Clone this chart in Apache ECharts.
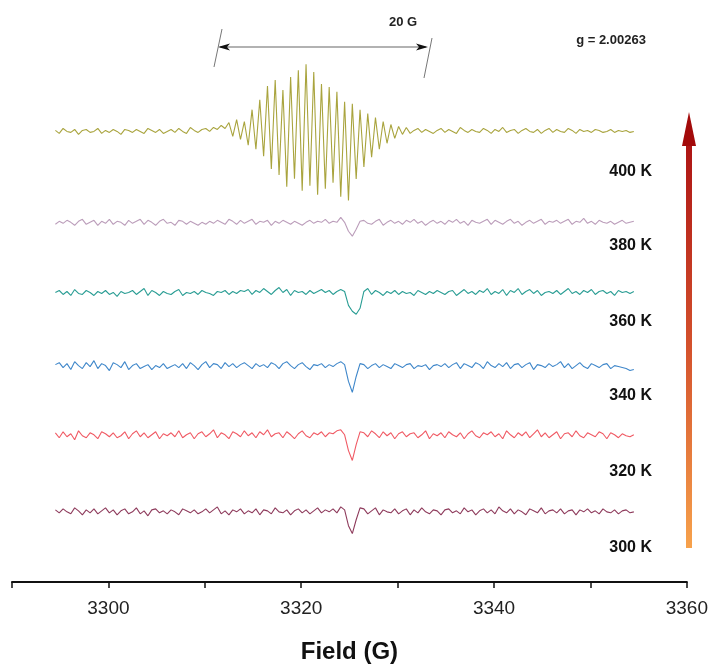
<!DOCTYPE html>
<html>
<head>
<meta charset="utf-8">
<script src="https://cdn.jsdelivr.net/npm/echarts@6/dist/echarts.min.js"></script>
<style>
html,body{margin:0;padding:0;background:#fff;}
#chart{width:711px;height:669px;}
</style>
</head>
<body>
<div id="chart"></div>
<script>
// Field sweep (G): uniform instrument sampling
const fieldStart = 3294.5;
const fieldStep = 0.4;
const xTicks = [3300, 3320, 3340, 3360];
const temps = ['300 K', '320 K', '340 K', '360 K', '380 K', '400 K'];
// vertical offsets of the stacked spectra (arb. units)
const traceOffsets = [71, 148, 218, 292, 363, 456];

const s300 = [
 2,-1,3,0,-2,4,1,-3,2,-1,
 3,-2,1,4,-1,2,-3,1,3,-2,
 0,4,-2,1,-4,2,3,-1,1,-2,
 2,0,-3,3,1,-1,2,-2,0,3,
 -1,2,5,-2,1,-3,2,0,3,-2,
 1,-1,3,-3,2,1,-2,4,0,-1,
 2,-3,1,3,-1,2,-2,1,4,-1,
 2,0,3,-1,5,2,-14,-22,-8,4,
 3,-2,1,4,-3,2,0,-1,3,-2,
 1,3,-3,2,-1,4,0,-2,2,1,
 -3,2,3,-1,1,-2,4,0,2,-3,
 1,3,-1,2,-2,5,1,-1,3,-2,
 2,0,-3,3,1,-1,4,-2,1,2,
 -1,3,-2,1,2,-3,2,0,3,-1,
 1,-2,3,0,-1,2,-2,1,2,-1,
 0];
const s320 = [
 3,-2,4,-1,2,-4,5,0,-2,3,
 1,-3,4,2,-1,3,-2,0,4,-3,
 2,5,-1,3,-2,1,4,-3,2,0,
 3,-1,5,-2,1,3,-3,2,4,-1,
 2,6,-2,3,1,-3,4,2,-1,5,
 0,3,-2,4,1,6,-1,2,3,-2,
 4,1,-3,2,5,0,-2,3,1,4,
 -1,3,2,5,6,1,-15,-25,-9,4,
 3,-1,5,2,-2,4,0,3,-3,2,
 4,-1,2,3,-2,1,5,-3,2,0,
 3,-2,4,1,-1,3,-3,2,5,0,
 -2,3,1,4,-1,2,-3,5,1,-2,
 3,0,4,-2,2,6,-1,3,-2,1,
 4,-3,2,3,-1,5,0,-2,3,1,
 -1,4,2,-3,3,1,-2,2,0,-1,
 1];
const s340 = [
 2,4,-1,3,-3,5,1,-2,4,0,
 6,-2,3,1,-4,4,2,-1,5,-3,
 1,3,-2,0,2,-3,1,-1,3,-2,
 0,2,-1,3,-2,4,1,-3,2,5,
 -1,3,2,-2,4,0,3,-1,2,4,
 1,-2,3,0,2,-1,4,2,-2,3,
 5,1,-2,2,4,0,-3,2,1,3,
 -1,2,0,3,5,2,-15,-26,-10,3,
 2,-2,1,3,-1,2,0,-2,3,1,
 -1,2,3,-2,1,0,2,-3,1,2,
 0,3,-1,2,4,-2,3,1,-1,4,
 2,-2,5,1,-1,3,0,4,-2,2,
 3,-1,2,4,-3,2,1,-1,3,0,
 2,5,-1,3,-2,1,4,0,-2,3,
 1,-1,2,3,-2,1,0,-1,-2,-4,
 -3];
const s360 = [
 1,3,-1,2,-2,4,0,-1,3,1,
 -2,2,0,3,-1,1,-3,2,0,1,
 3,-1,2,5,-2,3,1,-2,2,0,
 -1,2,4,-2,1,0,2,-1,3,1,
 0,-2,2,1,3,-1,2,0,3,2,
 4,-1,3,1,5,2,-1,3,6,1,
 4,-2,3,1,2,-1,3,0,2,4,
 1,3,-1,2,4,2,-12,-18,-21,-15,
 2,5,-1,3,1,-2,2,0,3,-1,
 2,0,1,-2,3,1,-1,2,0,3,
 1,-1,2,3,-2,1,4,0,2,-1,
 3,1,5,-1,2,0,4,-2,3,1,
 5,-1,2,4,0,3,-2,1,2,0,
 3,-1,2,5,0,2,-1,3,1,4,
 -1,2,3,0,2,-2,3,1,2,0,
 2];
const s380 = [
 -1,2,0,3,1,-2,2,4,-1,1,
 3,-2,2,0,4,-1,2,1,-2,3,
 0,2,4,-1,3,1,-2,2,4,0,
 1,-2,3,2,-1,2,0,-2,1,-1,
 2,0,3,1,-1,4,2,-1,3,0,
 2,4,-1,2,1,3,-2,2,0,3,
 1,-1,2,0,-2,1,3,0,2,1,
 4,0,2,1,6,1,-8,-13,-6,2,
 3,0,-1,2,4,-2,1,3,0,2,
 -1,3,1,4,0,2,-2,1,3,0,
 2,-1,3,1,4,0,2,-2,3,1,
 0,2,4,-1,3,1,-1,2,4,0,
 2,-2,1,3,0,2,4,-1,2,1,
 3,0,2,4,-1,2,1,5,0,2,
 -1,3,1,0,2,-1,1,3,0,1,
 2];
const s400 = [
 1,-2,3,0,-1,2,-3,1,2,-1,
 0,3,-2,1,-1,2,0,-3,2,1,
 -1,2,0,-2,3,1,-1,2,-2,0,
 2,-1,3,0,-2,4,1,-1,2,3,
 0,4,2,6,3,9,-5,12,-8,10,
 -14,22,-18,32,-25,46,-38,52,-44,42,
 -56,55,-48,62,-60,68,-55,60,-64,48,
 -58,45,-52,40,-66,30,-70,28,-48,22,
 -36,18,-26,14,-18,10,-12,7,-7,5,
 -3,4,-2,1,3,-1,2,0,-2,1,
 3,-1,2,0,-2,4,1,-1,2,0,
 -1,3,1,-2,2,0,4,-1,1,2,
 -2,1,3,0,-1,2,-2,1,3,-1,
 2,0,-1,3,1,-2,2,0,1,-1,
 2,1,-1,0,2,-1,1,0,1,-1,
 0];

const spectra = [s300, s320, s340, s360, s380, s400];
const lineColors = ['#8e3b5c', '#f05a64', '#3f87ca', '#2a9d94', '#bb9dba', '#a9a43e'];

const chart = echarts.init(document.getElementById('chart'), null, {renderer: 'canvas'});

const series = spectra.map((vals, k) => ({
  type: 'line',
  name: temps[k],
  showSymbol: false,
  animation: false,
  lineStyle: {width: 1.1, color: lineColors[k]},
  itemStyle: {color: lineColors[k]},
  data: vals.map((v, i) => [fieldStart + i * fieldStep, traceOffsets[k] + v])
}));

const labelY = [548, 472, 396, 322, 246, 172];
const graphics = temps.map((t, k) => ({
  type: 'text',
  x: 652, y: labelY[k],
  style: {text: t, font: 'bold 16px "Liberation Sans", Arial, sans-serif', fill: '#111', textAlign: 'right', textVerticalAlign: 'middle'}
}));

// temperature arrow
graphics.push({
  type: 'rect',
  shape: {x: 686, y: 144, width: 6, height: 404},
  style: {fill: new echarts.graphic.LinearGradient(0, 0, 0, 1, [
    {offset: 0, color: '#ad1414'},
    {offset: 0.5, color: '#d4512c'},
    {offset: 1, color: '#f7a24c'}
  ])}
});
graphics.push({
  type: 'polygon',
  shape: {points: [[689, 112], [682, 146], [696, 146]]},
  style: {fill: '#a30a0a'}
});

// 20 G scale bar
graphics.push({type: 'line', shape: {x1: 220, y1: 47, x2: 426, y2: 47}, style: {stroke: '#999', lineWidth: 1.5}});
graphics.push({type: 'polygon', shape: {points: [[218, 47], [230, 43.5], [227, 47], [230, 50.5]]}, style: {fill: '#111'}});
graphics.push({type: 'polygon', shape: {points: [[428, 47], [416, 43.5], [419, 47], [416, 50.5]]}, style: {fill: '#111'}});
graphics.push({type: 'line', shape: {x1: 222, y1: 29, x2: 214, y2: 67}, style: {stroke: '#777', lineWidth: 1}});
graphics.push({type: 'line', shape: {x1: 432, y1: 38, x2: 424, y2: 78}, style: {stroke: '#777', lineWidth: 1}});
graphics.push({type: 'text', x: 403, y: 22, style: {text: '20 G', font: 'bold 13px "Liberation Sans", Arial, sans-serif', fill: '#222', textAlign: 'center', textVerticalAlign: 'middle'}});
graphics.push({type: 'text', x: 611, y: 40, style: {text: 'g = 2.00263', font: 'bold 13px "Liberation Sans", Arial, sans-serif', fill: '#222', textAlign: 'center', textVerticalAlign: 'middle'}});

chart.setOption({
  animation: false,
  backgroundColor: '#fff',
  grid: {left: 12, right: 23, top: 0, bottom: 80, containLabel: false},
  xAxis: {
    type: 'value', min: 3290, max: 3360, interval: 10,
    name: 'Field (G)', nameLocation: 'middle', nameGap: 58,
    nameTextStyle: {fontFamily: '"Liberation Sans", Arial, sans-serif', fontWeight: 'bold', fontSize: 24, color: '#111'},
    axisLine: {onZero: false, lineStyle: {color: '#111', width: 2}},
    axisTick: {show: true, inside: false, length: 6, lineStyle: {color: '#111', width: 1.5}},
    axisLabel: {
      margin: 17, fontSize: 19, color: '#222', fontFamily: '"Liberation Sans", Arial, sans-serif',
      formatter: v => xTicks.indexOf(v) >= 0 ? String(v) : ''
    },
    splitLine: {show: false}
  },
  yAxis: {type: 'value', min: 0, max: 589, show: false, splitLine: {show: false}},
  series: series,
  graphic: graphics
});
</script>
</body>
</html>
